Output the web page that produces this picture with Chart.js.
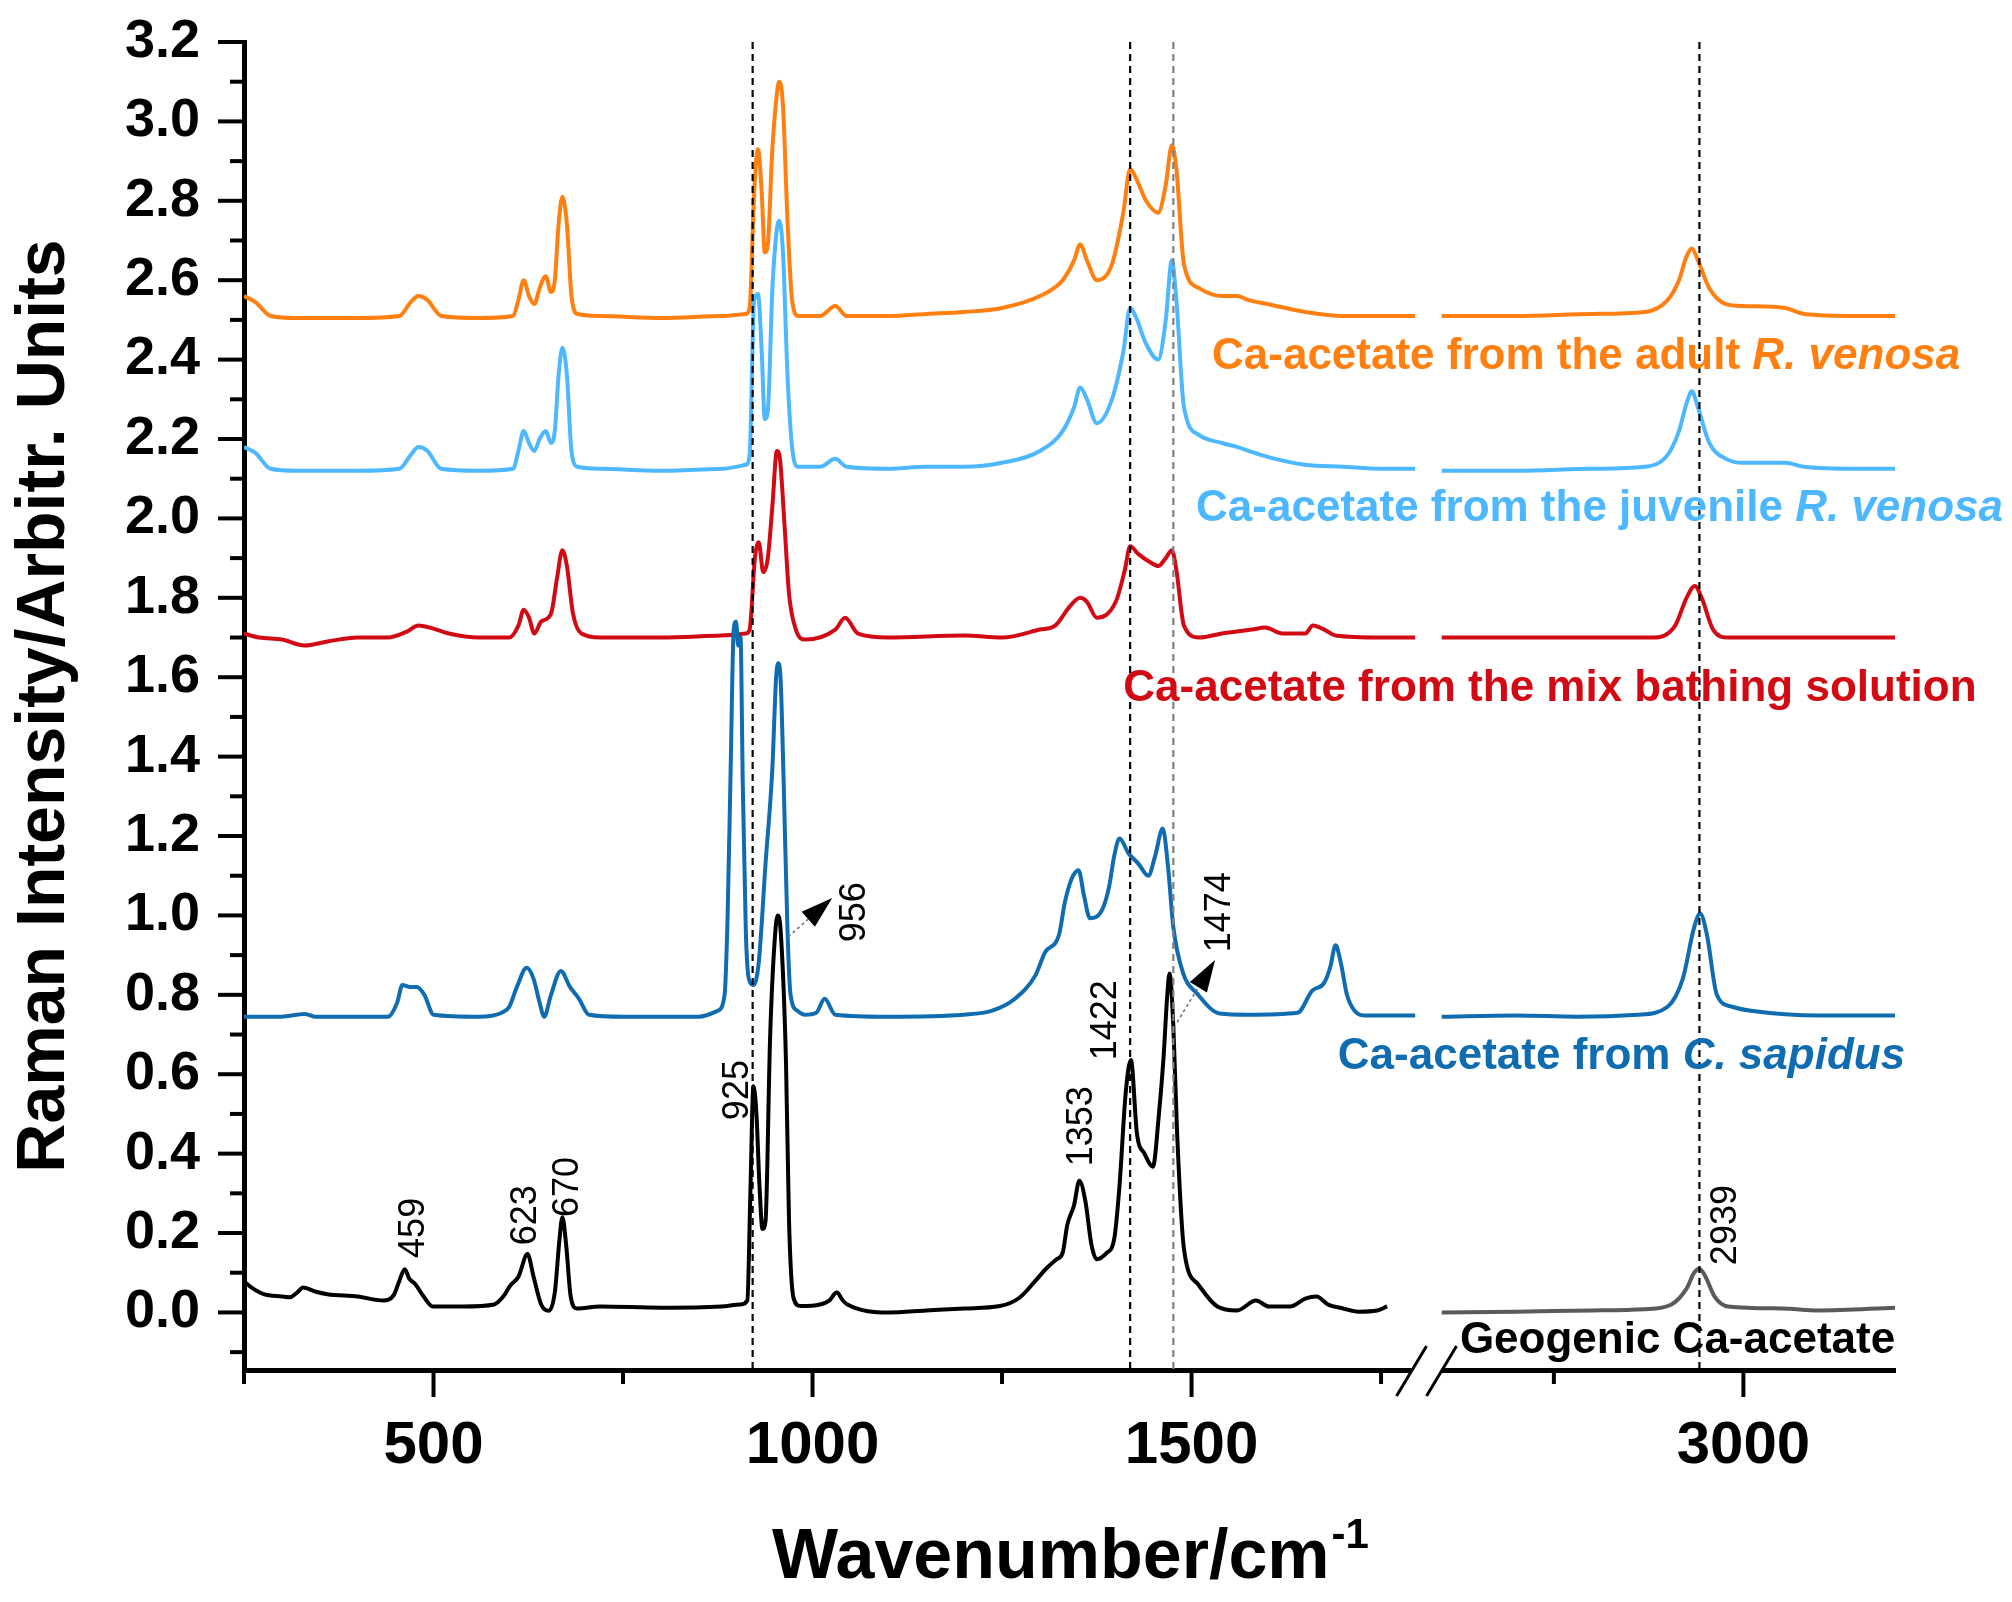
<!DOCTYPE html>
<html>
<head>
<meta charset="utf-8">
<title>Raman spectra of Ca-acetate</title>
<script src="https://cdn.jsdelivr.net/npm/chart.js@4.4.1/dist/chart.umd.min.js"></script>
<style>
  html, body { margin: 0; padding: 0; background: #fff; }
  #wrap { width: 2012px; height: 1602px; position: relative; }
</style>
</head>
<body>
<div id="wrap"><canvas id="raman"></canvas></div>
<script>
// the x axis is broken: nothing is shown between 1810 and 2582 cm-1
const BREAK_LO = 1810, BREAK_HI = 2582;
const toAxis = w => (w <= BREAK_LO ? w : w - (BREAK_HI - BREAK_LO));
const fromAxis = a => (a <= BREAK_LO ? a : a + (BREAK_HI - BREAK_LO));

const xMajorTicks = [500, 1000, 1500, 3000];
const xMinorTicks = [250, 750, 1250, 1750, 2750];
const yMajorTicks = [0.0, 0.2, 0.4, 0.6, 0.8, 1.0, 1.2, 1.4, 1.6, 1.8, 2.0, 2.2, 2.4, 2.6, 2.8, 3.0, 3.2];
const yMinorTicks = [-0.1, 0.1, 0.3, 0.5, 0.7, 0.9, 1.1, 1.3, 1.5, 1.7, 1.9, 2.1, 2.3, 2.5, 2.7, 2.9, 3.1];

// dashed marker lines (wavenumber)
const refLines = [921, 1419, 1476, 2942];

// R. venosa spectra (adult and juvenile share the same sampling); null = axis break
const rvenosaWn = [250,265,285,320,400,455,470,480,492,510,560,605,612,619,626,633,640,648,655,660,665,670,676,682,690,720,800,880,912,917,923,928,933,937,941,947,953,956,961,967,973,981,1010,1030,1045,1100,1150,1200,1250,1300,1330,1345,1353,1362,1375,1395,1410,1419,1426,1440,1456,1466,1474,1480,1490,1510,1540,1560,1575,1600,1650,1700,1750,1795,null,2602,2700,2800,2870,2900,2915,2925,2932,2940,2955,2977,3000,3055,3080,3150,3200];
const adultInt = [2.56,2.545,2.51,2.505,2.505,2.51,2.545,2.56,2.55,2.51,2.505,2.51,2.55,2.60,2.56,2.54,2.58,2.61,2.57,2.60,2.74,2.81,2.74,2.56,2.515,2.51,2.505,2.51,2.515,2.53,2.82,2.93,2.82,2.67,2.69,2.93,3.07,3.10,3.04,2.75,2.55,2.51,2.51,2.535,2.51,2.51,2.515,2.52,2.53,2.56,2.60,2.65,2.69,2.65,2.60,2.64,2.77,2.88,2.86,2.80,2.77,2.84,2.94,2.88,2.64,2.58,2.56,2.56,2.55,2.54,2.52,2.51,2.51,2.51,null,2.51,2.51,2.515,2.52,2.55,2.60,2.66,2.68,2.65,2.58,2.54,2.535,2.53,2.515,2.51,2.51];
const juvenileInt = [2.18,2.165,2.125,2.12,2.12,2.125,2.16,2.18,2.17,2.125,2.12,2.125,2.17,2.22,2.19,2.17,2.20,2.22,2.19,2.22,2.36,2.43,2.36,2.17,2.13,2.125,2.12,2.125,2.135,2.16,2.55,2.565,2.42,2.25,2.27,2.575,2.73,2.75,2.67,2.36,2.18,2.13,2.13,2.15,2.13,2.125,2.13,2.13,2.14,2.17,2.22,2.28,2.33,2.30,2.24,2.30,2.42,2.53,2.51,2.44,2.40,2.50,2.65,2.55,2.28,2.21,2.19,2.18,2.17,2.155,2.135,2.13,2.125,2.125,null,2.12,2.12,2.125,2.13,2.16,2.22,2.29,2.32,2.28,2.19,2.15,2.14,2.14,2.13,2.125,2.125];

// mix bathing solution
const mixWn = [250,270,300,330,360,400,440,465,480,495,520,560,600,612,619,626,633,642,655,663,670,676,684,695,720,800,880,912,917,924,929,935,941,947,953,957,963,969,978,990,1030,1043,1060,1100,1200,1250,1300,1320,1340,1353,1362,1375,1400,1412,1419,1430,1445,1456,1466,1474,1480,1490,1510,1540,1580,1597,1620,1650,1660,1675,1690,1750,1795,null,2602,2700,2800,2880,2910,2925,2936,2945,2960,2980,3100,3200];
const mixInt = [1.71,1.70,1.695,1.68,1.69,1.70,1.70,1.715,1.73,1.725,1.71,1.70,1.70,1.73,1.77,1.75,1.71,1.74,1.76,1.85,1.92,1.88,1.76,1.71,1.70,1.70,1.705,1.71,1.72,1.90,1.94,1.865,1.90,2.03,2.17,2.15,1.985,1.81,1.72,1.695,1.72,1.75,1.71,1.70,1.705,1.70,1.72,1.73,1.78,1.80,1.79,1.75,1.79,1.87,1.93,1.91,1.89,1.88,1.90,1.92,1.87,1.73,1.70,1.71,1.72,1.725,1.71,1.71,1.73,1.72,1.705,1.70,1.70,null,1.70,1.70,1.70,1.70,1.73,1.80,1.83,1.80,1.72,1.70,1.70,1.70];

// C. sapidus
const sapidusWn = [250,300,320,330,345,400,440,452,459,468,478,488,500,560,590,600,610,623,632,640,646,655,668,680,692,705,750,850,875,884,888,892,896,899,902,905,908,912,916,922,929,938,947,952,955,958,962,967,971,980,990,1005,1016,1030,1100,1200,1237,1267,1294,1307,1325,1333,1342,1351,1358,1366,1382,1391,1398,1405,1417,1430,1443,1452,1462,1469,1476,1489,1507,1537,1574,1640,1659,1675,1683,1690,1697,1705,1715,1730,1795,null,2602,2700,2780,2860,2900,2920,2935,2943,2952,2965,2985,3010,3100,3200];
const sapidusInt = [0.745,0.745,0.75,0.752,0.745,0.745,0.745,0.78,0.825,0.82,0.82,0.80,0.75,0.745,0.755,0.77,0.82,0.868,0.84,0.78,0.745,0.80,0.86,0.82,0.79,0.75,0.745,0.745,0.76,0.80,1.0,1.37,1.72,1.74,1.68,1.70,1.33,0.96,0.84,0.825,0.88,1.13,1.37,1.60,1.635,1.59,1.33,0.96,0.80,0.76,0.75,0.755,0.79,0.75,0.745,0.75,0.76,0.79,0.849,0.908,0.95,1.034,1.093,1.114,1.051,0.993,1.014,1.07,1.15,1.194,1.156,1.13,1.10,1.15,1.219,1.122,0.97,0.854,0.804,0.753,0.75,0.755,0.81,0.83,0.87,0.925,0.88,0.80,0.76,0.748,0.748,null,0.745,0.748,0.745,0.75,0.77,0.84,0.97,1.005,0.95,0.80,0.77,0.76,0.748,0.748];

// geogenic Ca-acetate (right part drawn grey)
const geoWn = [250,262,276,300,310,320,328,345,360,400,434,448,455,462,468,476,487,499,540,580,592,601,612,624,632,642,652,660,666,670,675,681,689,720,800,880,905,914,918,922,926,930,934,938,944,950,954,958,965,969,975,984,1010,1022,1032,1040,1046,1100,1150,1200,1247,1273,1296,1308,1322,1330,1336,1345,1352,1360,1368,1375,1388,1398,1405,1413,1420,1428,1438,1449,1457,1463,1468,1471,1476,1481,1490,1509,1534,1560,1585,1602,1630,1650,1665,1680,1700,1720,1745,1758,null,2602,2700,2800,2870,2905,2925,2935,2942,2950,2962,2980,3050,3100,3200];
const geoInt = [0.078,0.06,0.046,0.04,0.038,0.05,0.063,0.052,0.046,0.04,0.03,0.045,0.08,0.109,0.085,0.071,0.04,0.015,0.015,0.02,0.04,0.067,0.09,0.147,0.09,0.02,0.004,0.05,0.18,0.24,0.17,0.04,0.01,0.015,0.012,0.015,0.02,0.03,0.30,0.57,0.50,0.32,0.21,0.23,0.69,0.935,1.0,0.96,0.63,0.23,0.036,0.016,0.02,0.03,0.05,0.03,0.02,0.0,0.005,0.01,0.016,0.037,0.084,0.11,0.134,0.15,0.22,0.27,0.332,0.28,0.17,0.134,0.15,0.185,0.32,0.55,0.636,0.45,0.40,0.367,0.50,0.64,0.80,0.854,0.72,0.45,0.16,0.07,0.015,0.005,0.03,0.015,0.015,0.035,0.04,0.02,0.01,0.002,0.005,0.015,null,0.0,0.002,0.005,0.008,0.02,0.06,0.10,0.11,0.09,0.04,0.015,0.01,0.005,0.012];

const COL = {
  adult: '#FF8010',
  juvenile: '#4DB8FF',
  mix: '#D20A14',
  sapidus: '#0F6CB0',
  geo: '#000000',
  geoRight: '#5A5A5A'
};
const FONT = '"Liberation Sans", Arial, Helvetica, sans-serif';

// text placed on the plot (anchors in wavenumber / intensity)
const seriesNotes = [
  { text: 'Ca-acetate from the adult ', em: 'R. venosa', color: COL.adult, w: 1527, v: 2.407 },
  { text: 'Ca-acetate from the juvenile ', em: 'R. venosa', color: COL.juvenile, w: 1506, v: 2.024 },
  { text: 'Ca-acetate from the mix bathing solution', em: '', color: COL.mix, w: 1410, v: 1.570 },
  { text: 'Ca-acetate from ', em: 'C. sapidus', color: COL.sapidus, w: 1693, v: 0.643 },
  { text: 'Geogenic Ca-acetate', em: '', color: '#000', w: 2626, v: -0.072 }
];
const peakNotes = [
  { text: '459', w: 474, v: 0.213 },
  { text: '623', w: 622, v: 0.245 },
  { text: '670', w: 677, v: 0.316 },
  { text: '925', w: 902, v: 0.560 },
  { text: '956', w: 1056, v: 1.008 },
  { text: '1353', w: 1356, v: 0.469 },
  { text: '1422', w: 1387, v: 0.736 },
  { text: '1474', w: 1538, v: 1.008 },
  { text: '2939', w: 2977, v: 0.220 }
];
const arrows = [
  { from: [968, 0.946], to: [1026, 1.044] },
  { from: [1481, 0.731], to: [1531, 0.888] }
];

function points(wn, val) {
  return wn.map((w, i) => (w === null ? { x: BREAK_LO, y: null } : { x: toAxis(w), y: val[i] }));
}

function line(label, wn, val, color) {
  return {
    label: label,
    data: points(wn, val),
    borderColor: color,
    borderWidth: 4,
    pointRadius: 0,
    fill: false,
    spanGaps: false,
    cubicInterpolationMode: 'monotone'
  };
}

const geoSet = line('Geogenic Ca-acetate', geoWn, geoInt, COL.geo);
geoSet.segment = { borderColor: c => (c.p0.parsed.x > BREAK_LO ? COL.geoRight : COL.geo) };

const decor = {
  id: 'decor',
  afterDatasetsDraw(chart) {
    const { ctx, chartArea: a, scales: { x } } = chart;
    ctx.save();
    ctx.lineWidth = 2.2;
    ctx.setLineDash([7, 5]);
    refLines.forEach((w, i) => {
      const px = x.getPixelForValue(toAxis(w));
      ctx.strokeStyle = i === 2 ? '#808080' : '#000';
      ctx.beginPath();
      ctx.moveTo(px, a.top);
      ctx.lineTo(px, a.bottom);
      ctx.stroke();
    });
    ctx.restore();
  },
  afterDraw(chart) {
    const { ctx, chartArea: a, scales: { x, y } } = chart;
    const px = w => x.getPixelForValue(toAxis(w));
    const py = v => y.getPixelForValue(v);
    ctx.save();

    // tick marks, long for labelled ticks
    ctx.strokeStyle = '#000';
    ctx.lineWidth = 4;
    xMajorTicks.concat(xMinorTicks).forEach(w => {
      const len = xMajorTicks.includes(w) ? 27 : 14;
      ctx.beginPath();
      ctx.moveTo(px(w), a.bottom);
      ctx.lineTo(px(w), a.bottom + len);
      ctx.stroke();
    });
    yMajorTicks.concat(yMinorTicks).forEach(v => {
      const len = yMajorTicks.includes(v) ? 26 : 14;
      ctx.beginPath();
      ctx.moveTo(a.left, py(v));
      ctx.lineTo(a.left - len, py(v));
      ctx.stroke();
    });

    // axis break
    const cx = x.getPixelForValue(BREAK_LO);
    ctx.fillStyle = '#fff';
    ctx.fillRect(cx - 15, a.bottom - 5, 30, 10);
    ctx.lineWidth = 3;
    [-15, 15].forEach(d => {
      ctx.beginPath();
      ctx.moveTo(cx + d - 15, a.bottom + 26);
      ctx.lineTo(cx + d + 15, a.bottom - 24);
      ctx.stroke();
    });

    // series labels
    ctx.textBaseline = 'middle';
    ctx.textAlign = 'left';
    seriesNotes.forEach(n => {
      ctx.fillStyle = n.color;
      ctx.font = 'bold 44px ' + FONT;
      const x0 = px(n.w), y0 = py(n.v);
      ctx.fillText(n.text, x0, y0);
      if (n.em) {
        const wd = ctx.measureText(n.text).width;
        ctx.font = 'italic bold 44px ' + FONT;
        ctx.fillText(n.em, x0 + wd, y0);
      }
    });

    // peak positions, written vertically
    ctx.fillStyle = '#000';
    ctx.font = '36px ' + FONT;
    ctx.textAlign = 'center';
    peakNotes.forEach(n => {
      ctx.save();
      ctx.translate(px(n.w), py(n.v));
      ctx.rotate(-Math.PI / 2);
      ctx.fillText(n.text, 0, 0);
      ctx.restore();
    });

    // arrows pointing to the 956 and 1474 labels
    arrows.forEach(ar => {
      const x1 = px(ar.from[0]), y1 = py(ar.from[1]);
      const x2 = px(ar.to[0]), y2 = py(ar.to[1]);
      const ang = Math.atan2(y2 - y1, x2 - x1);
      const head = 32, half = 10;
      const bx = x2 - head * Math.cos(ang), by = y2 - head * Math.sin(ang);
      ctx.strokeStyle = '#777';
      ctx.lineWidth = 1.6;
      ctx.setLineDash([3, 3]);
      ctx.beginPath();
      ctx.moveTo(x1, y1);
      ctx.lineTo(bx, by);
      ctx.stroke();
      ctx.setLineDash([]);
      ctx.fillStyle = '#000';
      ctx.beginPath();
      ctx.moveTo(x2, y2);
      ctx.lineTo(bx + half * Math.sin(ang), by - half * Math.cos(ang));
      ctx.lineTo(bx - half * Math.sin(ang), by + half * Math.cos(ang));
      ctx.closePath();
      ctx.fill();
    });

    // axis titles
    ctx.fillStyle = '#000';
    ctx.save();
    ctx.translate(45, (a.top + a.bottom) / 2);
    ctx.rotate(-Math.PI / 2);
    ctx.font = 'bold 68px ' + FONT;
    ctx.textAlign = 'center';
    ctx.textBaseline = 'middle';
    ctx.fillText('Raman Intensity/Arbitr. Units', 0, 0);
    ctx.restore();

    const main = 'Wavenumber/cm', sup = '-1';
    ctx.font = 'bold 70px ' + FONT;
    const mw = ctx.measureText(main).width;
    ctx.font = 'bold 42px ' + FONT;
    const sw = ctx.measureText(sup).width;
    const tx = (a.left + a.right) / 2 - (mw + sw) / 2;
    ctx.textAlign = 'left';
    ctx.textBaseline = 'alphabetic';
    ctx.font = 'bold 70px ' + FONT;
    ctx.fillText(main, tx, 1578);
    ctx.font = 'bold 42px ' + FONT;
    ctx.fillText(sup, tx + mw + 2, 1548);

    ctx.restore();
  }
};

new Chart(document.getElementById('raman'), {
  type: 'line',
  data: {
    datasets: [
      geoSet,
      line('Ca-acetate from C. sapidus', sapidusWn, sapidusInt, COL.sapidus),
      line('Ca-acetate from the mix bathing solution', mixWn, mixInt, COL.mix),
      line('Ca-acetate from the juvenile R. venosa', rvenosaWn, juvenileInt, COL.juvenile),
      line('Ca-acetate from the adult R. venosa', rvenosaWn, adultInt, COL.adult)
    ]
  },
  options: {
    responsive: true,
    maintainAspectRatio: false,
    animation: false,
    layout: { padding: { left: 0, top: 42, right: 117, bottom: 0 } },
    plugins: {
      legend: { display: false },
      tooltip: { enabled: false }
    },
    scales: {
      x: {
        type: 'linear',
        min: 250,
        max: toAxis(3200),
        afterBuildTicks: s => {
          s.ticks = xMinorTicks.concat(xMajorTicks).map(toAxis).sort((p, q) => p - q).map(v => ({ value: v }));
        },
        afterFit: s => { s.height = 232; s.paddingLeft = 0; s.paddingRight = 0; },
        ticks: {
          autoSkip: false,
          maxRotation: 0,
          padding: 40,
          color: '#000',
          font: { family: FONT, size: 60, weight: 'bold' },
          callback: v => (xMajorTicks.includes(fromAxis(v)) ? String(fromAxis(v)) : '')
        },
        grid: { drawOnChartArea: false, drawTicks: false },
        border: { display: true, color: '#000', width: 5 }
      },
      y: {
        min: -0.145,
        max: 3.2,
        afterBuildTicks: s => {
          s.ticks = yMinorTicks.concat(yMajorTicks).sort((p, q) => p - q).map(v => ({ value: v }));
        },
        afterFit: s => { s.width = 244; s.paddingTop = 0; s.paddingBottom = 0; },
        ticks: {
          autoSkip: false,
          padding: 44,
          color: '#000',
          font: { family: FONT, size: 54, weight: 'bold' },
          callback: v => (yMajorTicks.some(m => Math.abs(m - v) < 1e-6) ? v.toFixed(1) : '')
        },
        grid: { drawOnChartArea: false, drawTicks: false },
        border: { display: true, color: '#000', width: 5 }
      }
    }
  },
  plugins: [decor]
});
</script>
</body>
</html>
